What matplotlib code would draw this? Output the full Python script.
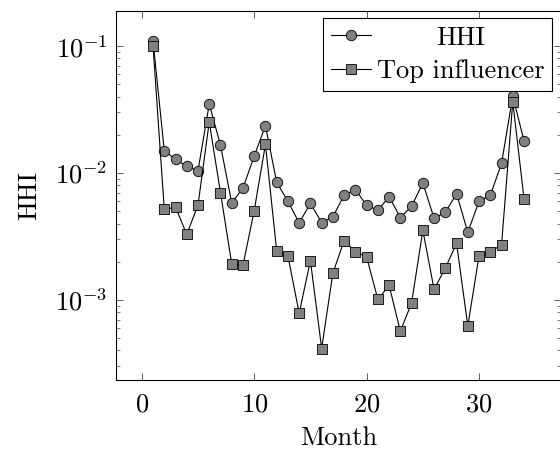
"""HHI per month on a log axis, pgfplots look"""
import matplotlib
matplotlib.use("Agg")
import matplotlib.pyplot as plt
from matplotlib.transforms import Affine2D

months = list(range(1, 35))
hhi = [0.110, 0.0150, 0.0128, 0.0113, 0.0104, 0.0349, 0.0166, 0.0058, 0.0076, 0.0136,
       0.0236, 0.00845, 0.00598, 0.00404, 0.00577, 0.00406, 0.00451, 0.00671, 0.0074, 0.00557,
       0.00508, 0.0065, 0.00445, 0.00547, 0.00834, 0.0044, 0.0049, 0.00687, 0.00341, 0.0060,
       0.00667, 0.0119, 0.0403, 0.0179]
top_influencer = [0.1005, 0.00518, 0.00537, 0.00329, 0.00557, 0.0253, 0.0070, 0.00193, 0.00187, 0.00505,
                  0.0168, 0.00244, 0.00222, 0.000785, 0.00204, 0.000414, 0.00163, 0.00293, 0.0024, 0.00218,
                  0.00101, 0.0013, 0.000567, 0.000946, 0.00354, 0.00121, 0.00178, 0.00279, 0.000623, 0.00223,
                  0.0024, 0.00271, 0.0364, 0.00628]

plt.rcParams['font.family'] = 'serif'
plt.rcParams['font.serif'] = ['cmr10']
plt.rcParams['mathtext.fontset'] = 'cm'
plt.rcParams['axes.formatter.use_mathtext'] = True

fig = plt.figure(figsize=(5.6, 4.49), dpi=100)
ax = fig.add_axes([0.207, 0.1537, 0.795, 0.8218])

ax.plot(months, hhi, color='black', lw=0.8, marker='o', markersize=7.5,
        markerfacecolor='#808080', markeredgecolor='black', markeredgewidth=0.6, label='HHI')
ax.plot(months, top_influencer, color='black', lw=0.8, marker='s', markersize=6.8,
        markerfacecolor='#808080', markeredgecolor='black', markeredgewidth=0.6, label='Top influencer')

ax.set_yscale('log')
ax.set_xlim(-2.3, 37.3)
ax.set_ylim(2.34e-4, 0.189)
ax.set_xticks([0, 10, 20, 30])
ax.tick_params(which='both', direction='in', top=True, right=True, labelsize=19, color='#444444')
ax.tick_params(which='major', length=5, width=0.6)
ax.tick_params(which='minor', length=3, width=0.5)
ax.tick_params(axis='x', which='major', pad=9)
ax.tick_params(axis='y', which='major', pad=6)
for sp in ax.spines.values():
    sp.set_linewidth(0.8)

ax.set_xlabel('Month', fontsize=19, labelpad=7)
ax.set_ylabel('HHI', fontsize=19, labelpad=10)

leg = ax.legend(loc='upper right', bbox_to_anchor=(0.98, 0.981), borderaxespad=0,
                fontsize=19, fancybox=False, edgecolor='black', framealpha=1,
                handlelength=1.5, handletextpad=0.22, labelspacing=0.37, borderpad=0.3)
leg.get_frame().set_linewidth(0.8)

# centre the shorter legend entry like pgfplots does
fig.canvas.draw()
r = fig.canvas.get_renderer()
t0, t1 = leg.get_texts()
dx = (t1.get_window_extent(r).width - t0.get_window_extent(r).width) / 2
t0.set_transform(t0.get_transform() + Affine2D().translate(dx, 0))

plt.savefig('out.png', dpi=100)
